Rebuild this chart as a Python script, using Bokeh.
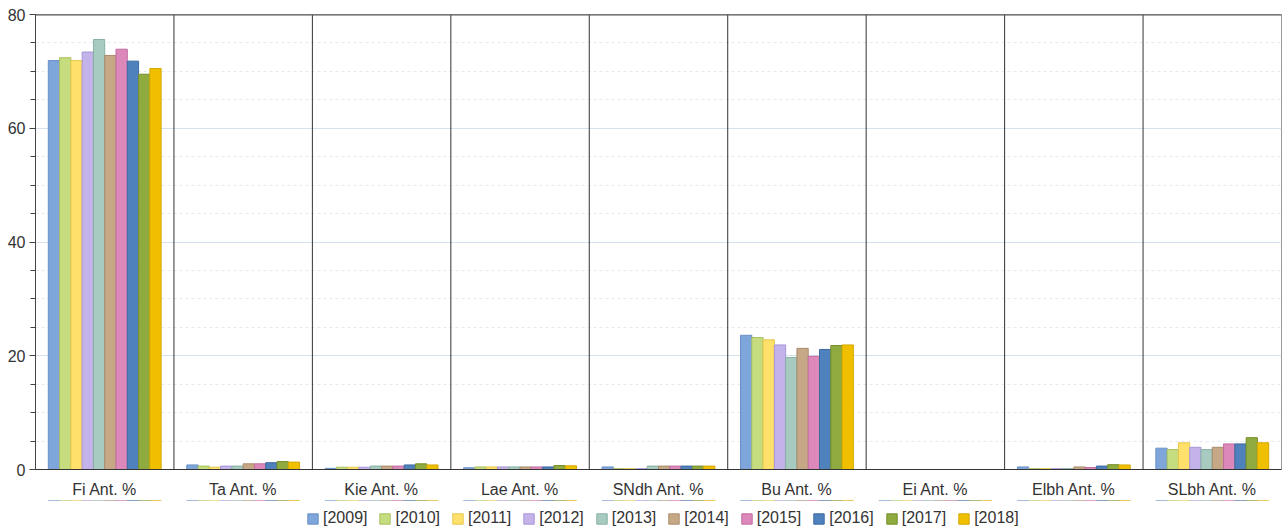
from bokeh.plotting import figure
from bokeh.layouts import column
from bokeh.models import (ColumnDataSource, FactorRange, Range1d, Span, Legend, LegendItem,
                          SingleIntervalTicker)
from bokeh.transform import dodge
from bokeh.embed import file_html
from bokeh.resources import INLINE

categories = ["Fi Ant. %", "Ta Ant. %", "Kie Ant. %", "Lae Ant. %", "SNdh Ant. %",
              "Bu Ant. %", "Ei Ant. %", "Elbh Ant. %", "SLbh Ant. %"]
years = ["2009", "2010", "2011", "2012", "2013", "2014", "2015", "2016", "2017", "2018"]

v2009 = [71.9, 0.8, 0.2, 0.3, 0.45, 23.6, 0.0, 0.45, 3.75]
v2010 = [72.4, 0.6, 0.4, 0.45, 0.15, 23.2, 0.0, 0.15, 3.5]
v2011 = [71.9, 0.4, 0.4, 0.45, 0.15, 22.8, 0.0, 0.15, 4.7]
v2012 = [73.4, 0.6, 0.4, 0.45, 0.15, 21.9, 0.0, 0.15, 3.9]
v2013 = [75.6, 0.6, 0.6, 0.45, 0.6, 19.7, 0.0, 0.15, 3.5]
v2014 = [72.8, 1.0, 0.6, 0.45, 0.6, 21.3, 0.0, 0.45, 3.9]
v2015 = [73.9, 1.0, 0.6, 0.45, 0.6, 19.9, 0.0, 0.35, 4.5]
v2016 = [71.8, 1.2, 0.8, 0.45, 0.6, 21.1, 0.0, 0.6, 4.5]
v2017 = [69.5, 1.4, 1.0, 0.7, 0.6, 21.8, 0.0, 0.85, 5.6]
v2018 = [70.5, 1.3, 0.8, 0.65, 0.6, 21.9, 0.0, 0.8, 4.7]

series = [v2009, v2010, v2011, v2012, v2013, v2014, v2015, v2016, v2017, v2018]

fills = ["#7EA6DB", "#C6DD7F", "#FFE06A", "#C4B3EB", "#A7CBC1",
         "#C6A887", "#DC88BA", "#4F81BD", "#8FAA3E", "#F0C000"]
lines = ["#6A90C8", "#A8C060", "#E6C84E", "#A896D8", "#88B0A4",
         "#A88C6C", "#C46CA0", "#3C6AA0", "#76902C", "#D4A800"]

FONT = "Liberation Sans"
FS = "16px"

p = figure(x_range=FactorRange(*categories), y_range=Range1d(0, 80),
           width=1282, height=500,
           min_border_left=35, min_border_right=1, min_border_top=14, min_border_bottom=29,
           output_backend="svg", toolbar_location=None, background_fill_color="white")

src = ColumnDataSource(dict(cat=categories, **{"y" + y: s for y, s in zip(years, series)}))

w = 0.0815
for i, y in enumerate(years):
    off = -0.4075 + w * (i + 0.5)
    p.vbar(x=dodge("cat", off, range=p.x_range), top="y" + y, width=w, source=src,
           fill_color=fills[i], line_color=lines[i], line_width=1)

# group separators
for k in range(1, len(categories)):
    p.add_layout(Span(location=k, dimension="height", line_color="#333333", line_width=1))
# top border
p.add_layout(Span(location=80, dimension="width", line_color="#555555", line_width=2))

p.outline_line_color = "#999999"

# y axis
p.yaxis.ticker = SingleIntervalTicker(interval=20, num_minor_ticks=4)
p.yaxis.axis_line_color = "#444444"
p.yaxis.major_tick_line_color = "#444444"
p.yaxis.minor_tick_line_color = "#444444"
p.yaxis.major_tick_out = 6
p.yaxis.major_tick_in = 0
p.yaxis.minor_tick_out = 5
p.yaxis.minor_tick_in = 0
p.yaxis.major_label_text_font = FONT
p.yaxis.major_label_text_font_size = FS
p.yaxis.major_label_text_color = "#333333"
p.yaxis.major_label_standoff = 4

p.ygrid.grid_line_color = "#D4E2EF"
p.ygrid.minor_grid_line_color = "#E2EAF2"
p.ygrid.minor_grid_line_dash = "3 3"
p.xgrid.grid_line_color = None

# x axis
p.xaxis.axis_line_color = "#333333"
p.xaxis.major_tick_line_color = None
p.xaxis.minor_tick_line_color = None
p.xaxis.major_label_text_font = FONT
p.xaxis.major_label_text_font_size = FS
p.xaxis.major_label_text_color = "#333333"
p.xaxis.major_label_standoff = 5

# legend strip below the chart (same series, drawn far outside its visible range)
p2 = figure(width=1282, height=29, x_range=FactorRange(*categories),
            y_range=Range1d(-1000, -999),
            x_axis_type=None, y_axis_type=None, min_border=0,
            output_backend="svg", toolbar_location=None)
p2.outline_line_color = None
p2.grid.grid_line_color = None
items = []
for i, y in enumerate(years):
    off = -0.4075 + w * (i + 0.5)
    r = p2.vbar(x=dodge("cat", off, range=p2.x_range), top="y" + y, width=w, source=src,
                fill_color=fills[i], line_color=lines[i], line_width=1)
    items.append(LegendItem(label="[" + y + "]", renderers=[r]))

legend = Legend(items=items, orientation="horizontal", location=(271, 2),
                label_text_font=FONT, label_text_font_size=FS, label_text_color="#333333",
                glyph_width=13, glyph_height=13, label_standoff=4, spacing=11,
                border_line_color=None, background_fill_alpha=0, padding=0, margin=0)
p2.add_layout(legend, "center")

layout = column(p, p2, spacing=0)
open("out.html", "w").write(file_html(layout, INLINE))
